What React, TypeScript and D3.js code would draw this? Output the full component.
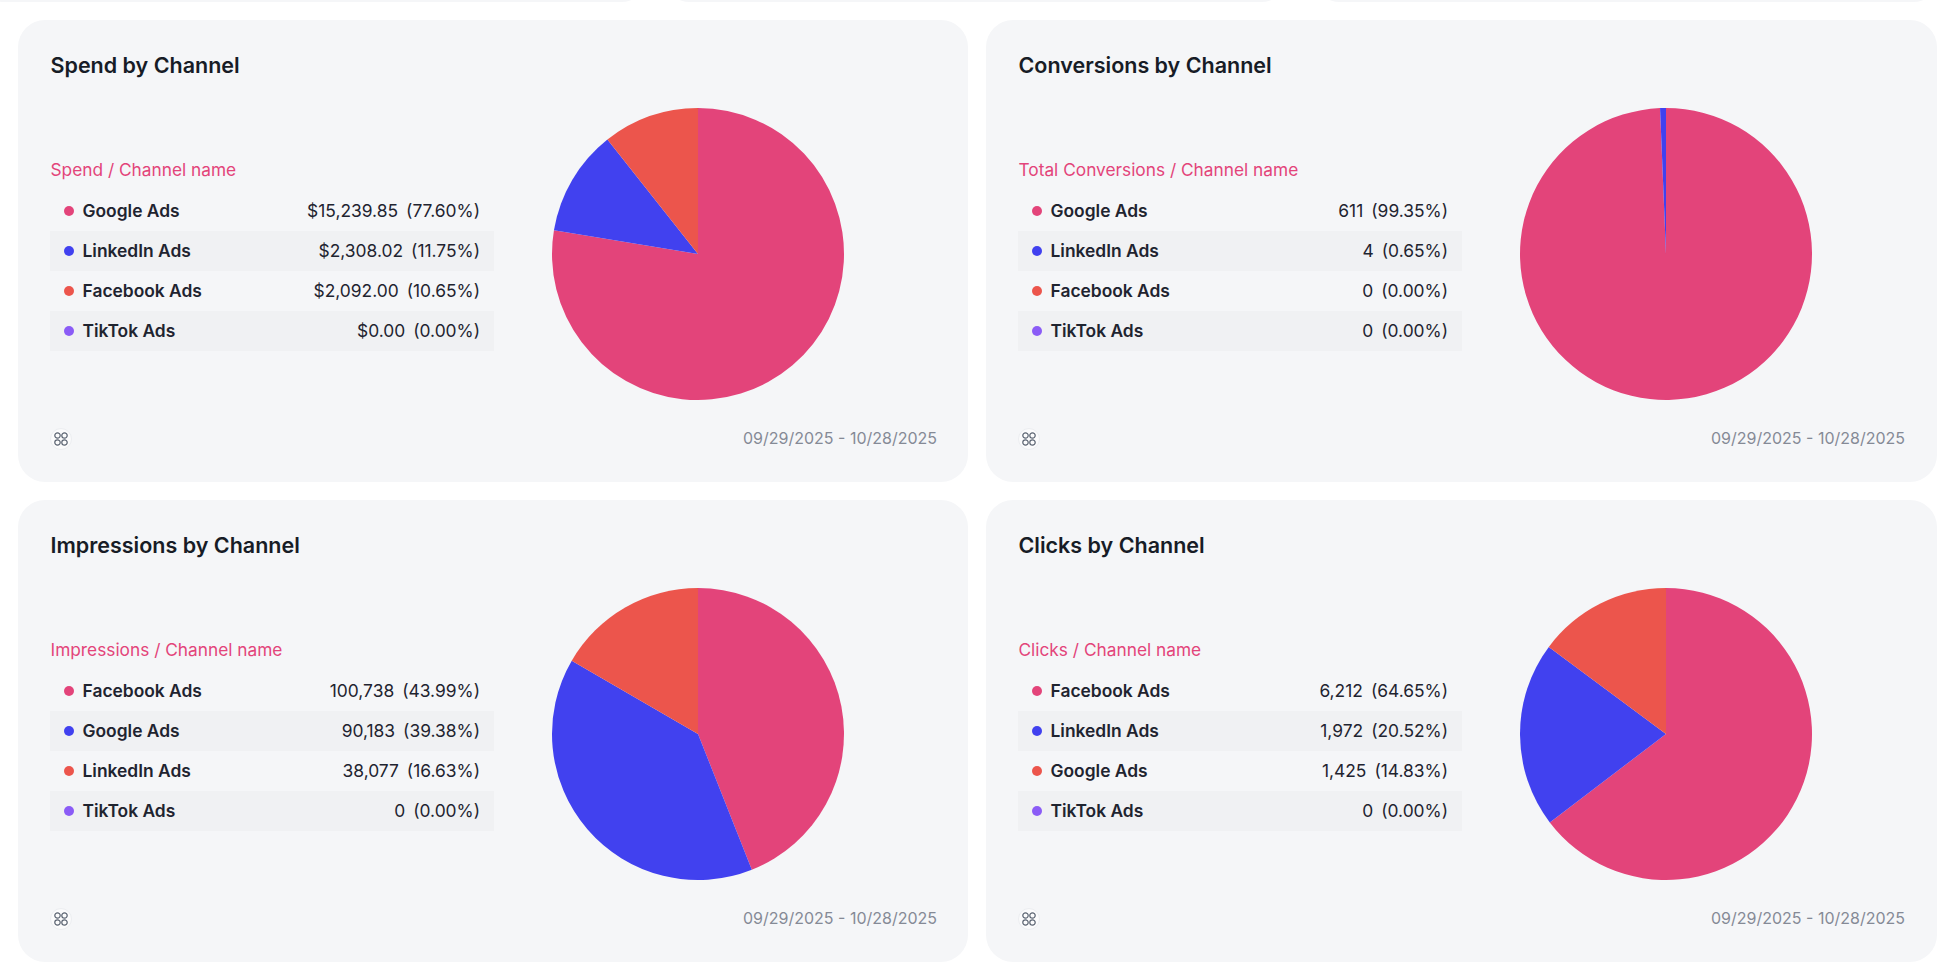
import * as d3 from "d3";

// palette by slice order, the same in all four cards
const sliceColors = ["#e3447a", "#4141ef", "#ec554c", "#8b5cf6"];

const cardTitles = ["Spend by Channel", "Conversions by Channel", "Impressions by Channel", "Clicks by Channel"];
const cardSubtitles = ["Spend / Channel name", "Total Conversions / Channel name", "Impressions / Channel name", "Clicks / Channel name"];
const dateRange = "09/29/2025 - 10/28/2025";

const spendChannels = ["Google Ads", "LinkedIn Ads", "Facebook Ads", "TikTok Ads"];
const spendValues = [15239.85, 2308.02, 2092.0, 0];
const spendShares = [77.6, 11.75, 10.65, 0];

const conversionChannels = ["Google Ads", "LinkedIn Ads", "Facebook Ads", "TikTok Ads"];
const conversionValues = [611, 4, 0, 0];
const conversionShares = [99.35, 0.65, 0, 0];

const impressionChannels = ["Facebook Ads", "Google Ads", "LinkedIn Ads", "TikTok Ads"];
const impressionValues = [100738, 90183, 38077, 0];
const impressionShares = [43.99, 39.38, 16.63, 0];

const clickChannels = ["Facebook Ads", "LinkedIn Ads", "Google Ads", "TikTok Ads"];
const clickValues = [6212, 1972, 1425, 0];
const clickShares = [64.65, 20.52, 14.83, 0];

const formatMoney = d3.format("$,.2f");
const formatCount = d3.format(",");
const formatShare = d3.format(".2f");

const FONT = "Inter, sans-serif";
const CARD_H = 462;

const pie = d3.pie<number>().sort(null).value((d) => d);
const arc = d3.arc<d3.PieArcDatum<number>>().innerRadius(0).outerRadius(146);

const rowY = d3.scaleBand<number>().domain([0, 1, 2, 3]).range([171, 331]);

function Card({ x, y, width, title, subtitle, channels, values, shares, format }: {
  x: number;
  y: number;
  width: number;
  title: string;
  subtitle: string;
  channels: string[];
  values: number[];
  shares: number[];
  format: (v: number) => string;
}) {
  return (
    <g transform={`translate(${x},${y})`} fontFamily={FONT}>
      <rect width={width} height={CARD_H} rx={27} fill="#f5f6f8" />
      <text x={32.5} y={53} fontSize={21.5} fontWeight={600} fill="#171c26">{title}</text>
      <text x={32.5} y={156} fontSize={17.3} fill="#e3447a">{subtitle}</text>
      {channels.map((name, i) => {
        const top = rowY(i)!;
        const mid = top + rowY.bandwidth() / 2;
        return (
          <g key={name}>
            {i % 2 === 1 && <rect x={32} y={top} width={444} height={rowY.bandwidth()} fill="#f0f1f3" />}
            <circle cx={51} cy={mid} r={5} fill={sliceColors[i]} />
            <text x={64.5} y={mid + 5.5} fontSize={17.4} fontWeight={600} fill="#1f2430">{name}</text>
            <text x={462} y={mid + 5.5} fontSize={17.4} textAnchor="end" fill="#1f2430">
              <tspan>{format(values[i])}</tspan>
              <tspan dx={8}>({formatShare(shares[i])}%)</tspan>
            </text>
          </g>
        );
      })}
      <g transform="translate(680,234)">
        {pie(values).map((d, i) => (
          <path key={i} d={arc(d)!} fill={sliceColors[i]} />
        ))}
      </g>
      <g transform="translate(43,419)">
        <circle r={10.5} fill="#fbfbfc" stroke="#eceef1" />
        {[[-3.5, -3.5], [3.5, -3.5], [-3.5, 3.5], [3.5, 3.5]].map(([cx, cy], i) => (
          <circle key={i} cx={cx} cy={cy} r={2.7} fill="none" stroke="#5b6472" strokeWidth={1.2} />
        ))}
      </g>
      <text x={919} y={424} fontSize={16} textAnchor="end" fill="#858a96">{dateRange}</text>
    </g>
  );
}

export default function App() {
  return (
    <svg width={1952} height={974} style={{ position: "absolute", left: 0, top: 0, display: "block" }}>
      <rect width={1952} height={974} fill="#fff" />
      {/* bottoms of the cards in the row above */}
      <rect x={-20} y={-40} width={665} height={42} rx={24} fill="#f5f6f8" />
      <rect x={666} y={-40} width={619} height={42} rx={24} fill="#f5f6f8" />
      <rect x={1316} y={-40} width={621} height={42} rx={24} fill="#f5f6f8" />
      <Card x={18} y={20} width={950} title={cardTitles[0]} subtitle={cardSubtitles[0]} channels={spendChannels} values={spendValues} shares={spendShares} format={formatMoney} />
      <Card x={986} y={20} width={951} title={cardTitles[1]} subtitle={cardSubtitles[1]} channels={conversionChannels} values={conversionValues} shares={conversionShares} format={formatCount} />
      <Card x={18} y={500} width={950} title={cardTitles[2]} subtitle={cardSubtitles[2]} channels={impressionChannels} values={impressionValues} shares={impressionShares} format={formatCount} />
      <Card x={986} y={500} width={951} title={cardTitles[3]} subtitle={cardSubtitles[3]} channels={clickChannels} values={clickValues} shares={clickShares} format={formatCount} />
    </svg>
  );
}
